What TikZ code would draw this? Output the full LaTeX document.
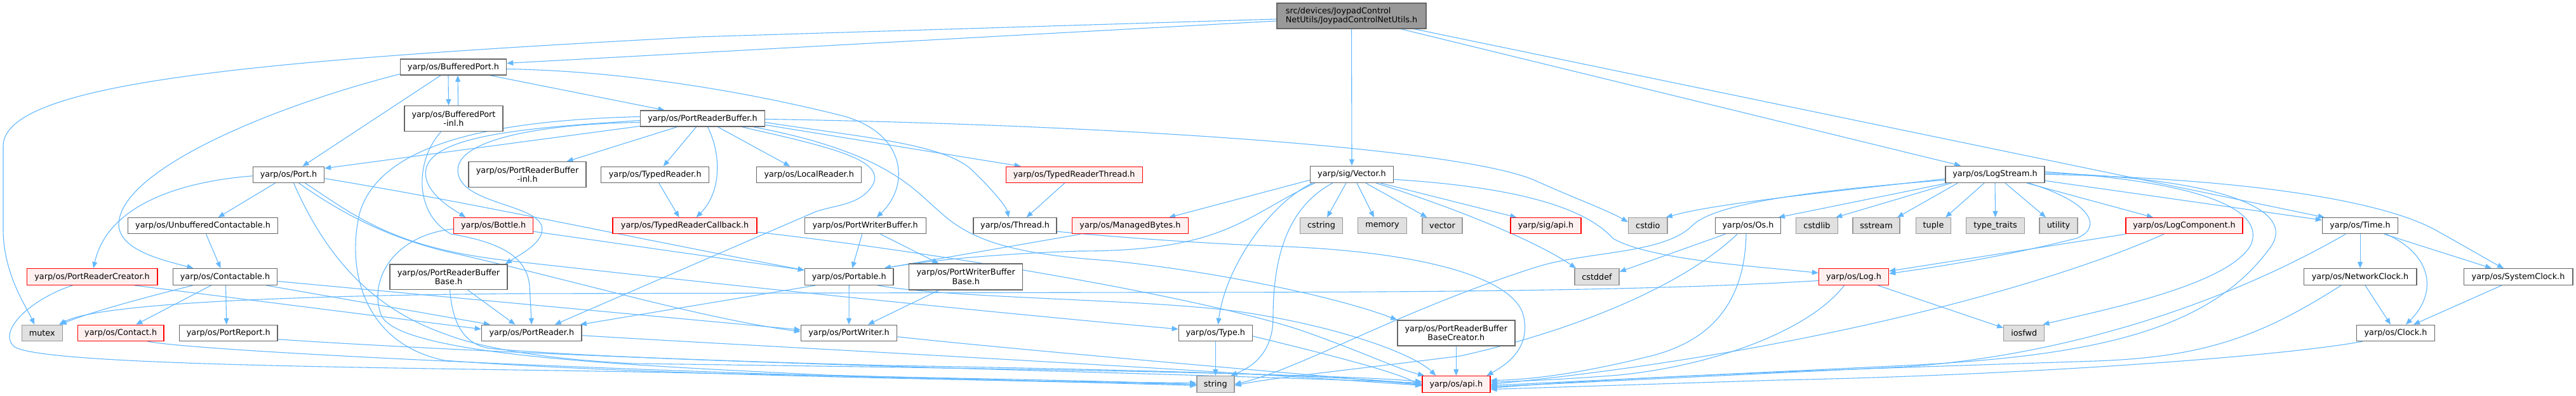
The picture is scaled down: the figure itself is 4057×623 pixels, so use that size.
\documentclass[tikz,border=0pt]{standalone}
\usepackage{fontspec}
\setmainfont{DejaVu Sans}
\usetikzlibrary{arrows.meta,calc,backgrounds}
\definecolor{edgec}{HTML}{63B8FF}
\definecolor{bord}{HTML}{666666}
\definecolor{sysfill}{HTML}{E0E0E0}
\definecolor{sysbord}{HTML}{999999}
\definecolor{redfill}{HTML}{FFF0F0}
\definecolor{redbord}{HTML}{FF0000}
\definecolor{mainfill}{HTML}{999999}
\tikzset{
  nbox/.style={draw=bord, fill=white, line width=1.4pt, inner sep=0pt, align=center,
    font=\fontsize{12.8pt}{14.7pt}\selectfont, text=black},
  rbox/.style={nbox, draw=redbord, fill=redfill},
  sbox/.style={nbox, draw=sysbord, fill=sysfill},
  mbox/.style={nbox, fill=mainfill, align=left},
  e/.style={draw=edgec, line width=1.1pt, -{Triangle[length=10pt,width=8pt]}}
}
\newcommand\hnode[7][nbox]{\node[#1,minimum width=#5pt,minimum height=#6pt] (#2) at (#3,#4) {#7};}
\begin{document}
\begin{tikzpicture}[x=1pt,y=-1pt]
\useasboundingbox (0,0) rectangle (4057,623);
% ---------- nodes ----------
\hnode[mbox]{main}{2128.5}{25}{235}{40}{src/devices/JoypadControl\\NetUtils/JoypadControlNetUtils.h}
\hnode{bp}{714}{105.5}{167}{25}{yarp/os/BufferedPort.h}
\hnode{bpinl}{714.5}{186.7}{155}{40}{yarp/os/BufferedPort\\-inl.h}
\hnode{prb}{1106.5}{186.5}{196}{25}{yarp/os/PortReaderBuffer.h}
\hnode{port}{454.5}{274.8}{112}{25}{yarp/os/Port.h}
\hnode{prbinl}{830.6}{274.7}{185}{40}{yarp/os/PortReaderBuffer\\-inl.h}
\hnode{tr}{1031.7}{274.8}{170}{25}{yarp/os/TypedReader.h}
\hnode{lr}{1274.2}{274.8}{165}{25}{yarp/os/LocalReader.h}
\hnode[rbox]{trt}{1691.7}{274.8}{215}{25}{yarp/os/TypedReaderThread.h}
\hnode{vec}{2129}{274.3}{131}{26}{yarp/sig/Vector.h}
\hnode{ls}{3142}{274.3}{156}{26}{yarp/os/LogStream.h}
\hnode{uc}{319.6}{355.2}{236}{25}{yarp/os/UnbufferedContactable.h}
\hnode[rbox]{bottle}{777.2}{355.2}{125}{25}{yarp/os/Bottle.h}
\hnode[rbox]{trc}{1078.6}{355.2}{227}{25}{yarp/os/TypedReaderCallback.h}
\hnode{pwb}{1362.7}{355.2}{191}{25}{yarp/os/PortWriterBuffer.h}
\hnode{thread}{1598.6}{355.2}{131}{25}{yarp/os/Thread.h}
\hnode[rbox]{mb}{1779.9}{355.2}{183}{25}{yarp/os/ManagedBytes.h}
\hnode[sbox]{cstring}{2081}{355.2}{67}{25}{cstring}
\hnode[sbox]{memory}{2177}{355.2}{77}{25}{memory}
\hnode[sbox]{vector}{2271.5}{355.2}{63}{25}{vector}
\hnode[rbox]{sigapi}{2434.5}{355.2}{111}{25}{yarp/sig/api.h}
\hnode[sbox]{cstdio}{2595.3}{355.2}{61.6}{25}{cstdio}
\hnode{os}{2753}{355.2}{102.5}{25}{yarp/os/Os.h}
\hnode[sbox]{cstdlib}{2861.5}{355.2}{66}{25}{cstdlib}
\hnode[sbox]{sstream}{2955}{355.2}{74}{25}{sstream}
\hnode[sbox]{tuple}{3045}{355.2}{55}{25}{tuple}
\hnode[sbox]{typetraits}{3142.5}{355.2}{92}{25}{type\_traits}
\hnode[sbox]{utility}{3242}{355.2}{60}{25}{utility}
\hnode[rbox]{lc}{3440}{355.2}{184}{25}{yarp/os/LogComponent.h}
\hnode{time}{3717}{355.2}{119}{25}{yarp/os/Time.h}
\hnode[rbox]{prc}{145.1}{435.5}{205.4}{25.6}{yarp/os/PortReaderCreator.h}
\hnode{contactable}{354.5}{435.5}{164.3}{25.6}{yarp/os/Contactable.h}
\hnode{prbb}{706.5}{435.7}{185}{39.5}{yarp/os/PortReaderBuffer\\Base.h}
\hnode{portable}{1337.2}{435.5}{139.6}{25.6}{yarp/os/Portable.h}
\hnode{pwbb}{1521.2}{435.5}{179}{41}{yarp/os/PortWriterBuffer\\Base.h}
\hnode[sbox]{cstddef}{2515}{435.5}{70}{25.6}{cstddef}
\hnode[rbox]{log}{2919.5}{435.5}{110}{25.6}{yarp/os/Log.h}
\hnode{nc}{3717}{435.5}{177.5}{25.6}{yarp/os/NetworkClock.h}
\hnode{sc}{3966}{435.5}{171.5}{25.6}{yarp/os/SystemClock.h}
\hnode[sbox]{mutex}{66.3}{523.8}{63.8}{25}{mutex}
\hnode[rbox]{contact}{190.2}{523.8}{135.7}{25}{yarp/os/Contact.h}
\hnode{preport}{359.8}{523.8}{154.4}{25}{yarp/os/PortReport.h}
\hnode{preader}{837.3}{523.8}{157.6}{25}{yarp/os/PortReader.h}
\hnode{pwriter}{1337}{523.8}{151}{25}{yarp/os/PortWriter.h}
\hnode{type}{1914.3}{523.8}{116}{25}{yarp/os/Type.h}
\hnode{prbbc}{2293.3}{523.8}{185}{40}{yarp/os/PortReaderBuffer\\BaseCreator.h}
\hnode[sbox]{iosfwd}{3187.7}{523.8}{64}{25}{iosfwd}
\hnode{clock}{3773}{523.8}{122.7}{25}{yarp/os/Clock.h}
\hnode[sbox]{string}{1914.3}{604.5}{59}{25.6}{string}
\hnode[rbox]{api}{2293.3}{604.5}{107}{25.6}{yarp/os/api.h}
% ---------- edges ----------
\begin{scope}[on background layer]
\fill[white] (0,0) rectangle (4057,623);
% main
\draw[e] ($(main.west)+(0,8)$) -- ($(bp.east)+(0,-6)$);
\draw[e] ($(main.west)+(0,5)$) -- (1100,58) .. controls (400,95) and (5,130) .. (5,230) -- (5,360) .. controls (5,430) and (40,480) .. ($(mutex.north)+(-12,0)$);
\draw[e] (main.south) -- (vec.north);
\draw[e] ($(main.south)+(78,0)$) -- ($(ls.north)+(-54,0)$);
\draw[e] ($(main.south)+(99,0)$) -- ($(time.north west)+(4,0)$);
% BufferedPort
\draw[e] ($(bp.south)+(-20,0)$) -- ($(port.north)+(22,0)$);
\draw[e] ($(bp.west)+(0,11)$) .. controls (420,170) and (185,270) .. (187,355) .. controls (190,395) and (260,410) .. ($(contactable.north)+(-50,0)$);
\draw[e] ($(bp.south)+(-8,0)$) -- ($(bpinl.north)+(-8,0)$);
\draw[e] ($(bpinl.north)+(7,0)$) -- ($(bp.south)+(7,0)$);
\draw[e] ($(bp.south)+(58,0)$) -- ($(prb.north)+(-60,0)$);
\draw[e] ($(bp.east)+(0,3)$) .. controls (1000,112) and (1200,150) .. (1330,183) .. controls (1425,210) and (1435,290) .. ($(pwb.north)+(18,0)$);
% BufferedPort-inl
\draw[e] ($(bpinl.south)+(-20,0)$) .. controls (655,250) and (650,335) .. (710,368) .. controls (780,380) and (830,400) .. (834,450) -- (preader.north);
% PortReaderBuffer
\draw[e] ($(prb.west)+(0,12)$) -- ($(port.east)+(0,-10)$);
\draw[e] ($(prb.south)+(-40,0)$) -- ($(prbinl.north)+(62,0)$);
\draw[e] ($(prb.south)+(-10,0)$) -- ($(tr.north)+(13,0)$);
\draw[e] ($(prb.south)+(8,0)$) .. controls (1135,240) and (1138,300) .. ($(trc.north)+(18,0)$);
\draw[e] ($(prb.south)+(24,0)$) -- ($(lr.north)+(-30,0)$);
\draw[e] ($(prb.east)+(0,10)$) -- ($(trt.north)+(-84,0)$);
\draw[e] ($(prb.east)+(0,1)$) .. controls (1700,195) and (2300,230) .. (2420,285) .. controls (2480,312) and (2530,330) .. ($(cstdio.west)+(0,-6)$);
\draw[e] ($(prb.east)+(0,6)$) .. controls (1350,215) and (1480,225) .. (1528,265) .. controls (1560,295) and (1585,325) .. ($(thread.north)+(-10,0)$);
\draw[e] ($(prb.west)+(0,3)$) .. controls (850,200) and (690,210) .. (672,262) .. controls (660,300) and (715,330) .. ($(bottle.north)+(-44,0)$);
\draw[e] ($(prb.west)+(0,6)$) .. controls (850,195) and (720,220) .. (721,268) .. controls (722,320) and (840,320) .. (853,355) .. controls (860,380) and (820,400) .. ($(prbb.north east)+(-4,0)$);
\draw[e] ($(prb.south)+(62,0)$) .. controls (1300,230) and (1395,250) .. (1375,290) .. controls (1355,325) and (1310,322) .. (1280,335) -- ($(preader.north east)+(-43,0)$);
\draw[e] ($(prb.south)+(80,0)$) .. controls (1400,240) and (1440,300) .. (1480,333) .. controls (1530,380) and (1600,400) .. (1746,410) .. controls (1900,425) and (2100,465) .. (prbbc.north west);
\draw[e] ($(prb.west)+(0,-3)$) .. controls (760,190) and (600,230) .. (567,333) .. controls (545,420) and (570,540) .. (700,567) .. controls (1000,590) and (1600,600) .. ($(string.west)+(0,-2)$);
% TypedReader
\draw[e] ($(tr.south)+(6,0)$) -- ($(trc.north)+(-9,0)$);
% Port
\draw[e] ($(port.west)+(0,2)$) .. controls (290,285) and (170,320) .. ($(prc.north)+(2,0)$);
\draw[e] ($(port.south)+(-21,0)$) -- ($(uc.north)+(24,0)$);
\draw[e] ($(port.east)+(0,6)$) .. controls (750,320) and (1000,375) .. ($(portable.north west)+(0,3)$);
\draw[e] ($(port.south)+(26,0)$) .. controls (560,340) and (620,390) .. (800,410) .. controls (1200,455) and (1600,495) .. ($(type.west)+(0,-6)$);
\draw[e] ($(port.south)+(16,0)$) .. controls (530,330) and (600,370) .. (700,395) .. controls (900,440) and (1100,500) .. ($(pwriter.west)+(0,-2)$);
\draw[e] ($(port.south)+(8,0)$) .. controls (520,420) and (600,490) .. (700,525) .. controls (750,545) and (850,565) .. (1000,572) .. controls (1600,580) and (2100,588) .. ($(api.west)+(0,-4)$);
% UnbufferedContactable
\draw[e] ($(uc.south)+(5,0)$) -- ($(contactable.north)+(-7,0)$);
% Contactable
\draw[e] ($(contactable.south)+(-51,0)$) .. controls (220,470) and (140,492) .. ($(mutex.north east)+(-4,0)$);
\draw[e] ($(contactable.south)+(-22,0)$) -- ($(contact.north)+(24,0)$);
\draw[e] ($(contactable.south)+(1,0)$) -- ($(preport.north)+(-3,0)$);
\draw[e] ($(contactable.south)+(65,0)$) -- ($(preader.north west)+(14,0)$);
\draw[e] ($(contactable.east)+(0,7)$) -- ($(pwriter.west)+(0,-5)$);
% Log -> mutex
\draw[e] ($(log.west)+(0,6)$) .. controls (2600,458) and (2200,460) .. (1800,460) -- (800,462) .. controls (400,466) and (150,480) .. ($(mutex.north east)+(-6,0)$);
% PortReaderCreator
\draw[e] ($(prc.south)+(67,0)$) -- ($(preader.west)+(0,-6)$);
\draw[e] ($(prc.south)+(-31,0)$) .. controls (50,470) and (-5,520) .. (22,545) .. controls (60,575) and (600,578) .. (1000,585) .. controls (1500,595) and (1800,600) .. ($(string.west)+(0,1)$);
% Contact, PortReport
\draw[e] ($(contact.south)+(42,0)$) .. controls (320,555) and (1200,595) .. (string.west);
\draw[e] ($(preport.east)+(0,10)$) .. controls (600,545) and (1000,565) .. (1400,575) .. controls (1800,582) and (2100,590) .. (api.west);
% Bottle
\draw[e] ($(bottle.east)+(0,9)$) -- ($(portable.north west)+(0,3)$);
\draw[e] ($(bottle.west)+(0,5)$) .. controls (620,370) and (580,440) .. (600,495) .. controls (625,560) and (1000,575) .. (1300,590) -- ($(string.west)+(0,2)$);
% PortReaderBufferBase
\draw[e] ($(prbb.south)+(30,0)$) -- ($(preader.north)+(-26,0)$);
\draw[e] ($(prbb.south)+(2,0)$) .. controls (712,500) and (725,540) .. (770,548) .. controls (1000,570) and (1800,585) .. ($(api.west)+(0,-2)$);
% Portable
\draw[e] (portable.south) -- (pwriter.north);
\draw[e] ($(portable.south)+(-53,0)$) -- ($(preader.north east)+(-3,0)$);
\draw[e] ($(portable.south)+(45,0)$) .. controls (1500,470) and (1800,470) .. (1950,490) .. controls (2120,515) and (2230,560) .. ($(api.north)+(-32,0)$);
% PortWriterBuffer
\draw[e] ($(pwb.south)+(-5,0)$) -- ($(portable.north)+(5,0)$);
\draw[e] ($(pwb.south)+(24,0)$) -- ($(pwbb.north)+(-43,0)$);
\draw[e] ($(pwbb.south)+(-43,0)$) -- ($(pwriter.north)+(30,0)$);
% PortReader, PortWriter
\draw[e] ($(preader.east)+(0,4)$) .. controls (1200,545) and (1800,575) .. ($(api.west)+(0,2)$);
\draw[e] ($(pwriter.east)+(0,6)$) .. controls (1600,550) and (1900,575) .. ($(api.west)+(0,1)$);
% TypedReaderCallback
\draw[e] ($(trc.east)+(0,10)$) .. controls (1500,400) and (1900,470) .. (2050,520) .. controls (2150,555) and (2200,580) .. ($(api.north west)+(4,0)$);
% Thread, TypedReaderThread, ManagedBytes
\draw[e] ($(thread.east)+(0,9)$) .. controls (1780,375) and (1900,383) .. (2000,387) .. controls (2250,395) and (2390,440) .. (2400,500) .. controls (2410,550) and (2370,575) .. ($(api.north east)+(-6,0)$);
\draw[e] ($(trt.south)+(-15,0)$) -- ($(thread.north)+(18,0)$);
\draw[e] ($(mb.south)+(-78,0)$) -- ($(portable.north east)+(-15,0)$);
% Type
\draw[e] (type.south) -- (string.north);
\draw[e] ($(type.east)+(0,5)$) .. controls (2100,560) and (2200,585) .. ($(api.west)+(0,3)$);
% Vector
\draw[e] ($(vec.south)+(-9,0)$) -- ($(cstring.north)+(9,0)$);
\draw[e] ($(vec.south)+(8,0)$) -- ($(memory.north)+(-13,0)$);
\draw[e] ($(vec.south)+(22,0)$) -- ($(vector.north)+(-24,0)$);
\draw[e] ($(vec.south)+(45,0)$) -- ($(sigapi.north)+(-46,0)$);
\draw[e] ($(vec.south)+(38,0)$) .. controls (2300,330) and (2420,380) .. ($(cstddef.north)+(-33,0)$);
\draw[e] ($(vec.east)+(0,8)$) .. controls (2400,295) and (2500,330) .. (2540,375) .. controls (2600,410) and (2780,420) .. ($(log.west)+(0,-6)$);
\draw[e] ($(vec.west)+(0,9)$) -- ($(mb.north east)+(-31,0)$);
\draw[e] ($(vec.south west)+(8,0)$) .. controls (1960,340) and (1930,395) .. (1700,395) .. controls (1550,400) and (1450,412) .. ($(portable.north east)+(-15,0)$);
\draw[e] ($(vec.south west)+(4,0)$) .. controls (2000,320) and (1930,420) .. ($(type.north)+(4,0)$);
\draw[e] ($(vec.south west)+(36,0)$) .. controls (2020,330) and (2005,420) .. (2005,500) .. controls (2005,560) and (1965,580) .. ($(string.north east)+(-6,0)$);
% LogStream
\draw[e] ($(ls.west)+(0,7)$) .. controls (2900,300) and (2700,320) .. ($(cstdio.north east)+(-3,0)$);
\draw[e] ($(ls.south west)+(4,0)$) -- ($(os.north east)+(-4,0)$);
\draw[e] ($(ls.south west)+(10,0)$) -- ($(cstdlib.north east)+(-4,0)$);
\draw[e] ($(ls.south west)+(20,0)$) -- ($(sstream.north)+(33,0)$);
\draw[e] ($(ls.south)+(-17,0)$) -- ($(tuple.north)+(19,0)$);
\draw[e] (ls.south) -- (typetraits.north);
\draw[e] ($(ls.south)+(16,0)$) -- ($(utility.north)+(-20,0)$);
\draw[e] ($(ls.south)+(50,0)$) -- ($(lc.north)+(-49,0)$);
\draw[e] ($(ls.east)+(0,10)$) -- ($(time.west)+(0,-9)$);
\draw[e] (ls.east) .. controls (3500,280) and (3750,310) .. (3843,366) .. controls (3890,392) and (3920,410) .. ($(sc.north)+(-23,0)$);
\draw[e] ($(ls.south)+(53,0)$) .. controls (3300,320) and (3310,360) .. (3270,375) .. controls (3150,405) and (3050,420) .. ($(log.east)+(0,-5)$);
\draw[e] ($(ls.east)+(0,-4)$) .. controls (3450,285) and (3570,325) .. (3545,385) .. controls (3510,450) and (3300,490) .. ($(iosfwd.north east)+(-3,0)$);
\draw[e] ($(ls.east)+(0,-2)$) .. controls (3500,280) and (3620,330) .. (3575,390) .. controls (3480,520) and (3300,560) .. (3000,575) -- ($(api.east)+(0,2)$);
\draw[e] ($(ls.west)+(0,9)$) .. controls (2850,300) and (2700,320) .. (2665,355) .. controls (2620,400) and (2500,395) .. (2420,420) .. controls (2200,490) and (2050,580) .. (string.east);
% Os
\draw[e] ($(os.south)+(-36,0)$) -- ($(cstddef.east)+(0,-8)$);
\draw[e] ($(os.south)+(-3,0)$) .. controls (2748,470) and (2700,535) .. (2600,560) .. controls (2500,585) and (2420,597) .. ($(api.east)+(0,-6)$);
\draw[e] ($(os.south)+(-17,0)$) .. controls (2650,450) and (2480,520) .. (2300,560) .. controls (2100,585) and (2000,595) .. ($(string.east)+(0,2)$);
% Log
\draw[e] ($(log.south)+(-15,0)$) .. controls (2850,520) and (2700,575) .. (2550,590) .. controls (2450,598) and (2380,600) .. ($(api.east)+(0,-3)$);
\draw[e] ($(log.south)+(38,0)$) -- ($(iosfwd.west)+(0,-8)$);
% LogComponent
\draw[e] (lc.south west) -- ($(log.east)+(0,-9)$);
\draw[e] ($(lc.south)+(-32,0)$) .. controls (3200,460) and (2800,560) .. (api.east);
% Time
\draw[e] (time.south) -- (nc.north);
\draw[e] ($(time.south)+(38,0)$) -- ($(sc.north)+(-42,0)$);
\draw[e] ($(time.south)+(41,0)$) .. controls (3830,400) and (3840,460) .. ($(clock.north)+(16,0)$);
\draw[e] ($(time.south)+(-23,0)$) .. controls (3500,480) and (3250,560) .. (3000,577) -- ($(api.east)+(0,4)$);
% NetworkClock, SystemClock, Clock
\draw[e] ($(nc.south)+(8,0)$) -- ($(clock.north)+(-8,0)$);
\draw[e] ($(nc.south)+(-30,0)$) .. controls (3560,530) and (3470,562) .. (3300,568) .. controls (3000,578) and (2600,590) .. ($(api.east)+(0,6)$);
\draw[e] ($(sc.south)+(-26,0)$) -- ($(clock.north)+(28,0)$);
\draw[e] ($(clock.south)+(-52,0)$) .. controls (3600,560) and (3200,590) .. (2800,598) -- ($(api.east)+(0,8)$);
% PortReaderBufferBaseCreator
\draw[e] (prbbc.south) -- (api.north);
\end{scope}
\end{tikzpicture}
\end{document}
